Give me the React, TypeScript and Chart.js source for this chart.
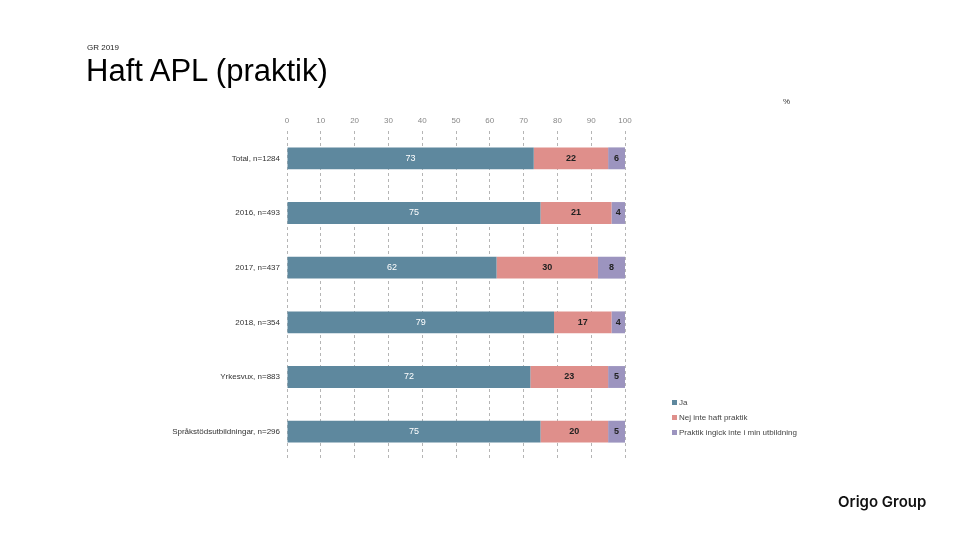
import React, { useEffect, useRef } from "react";
import { Chart, registerables } from "chart.js";
Chart.register(...registerables);

const categories = [
  "Total, n=1284",
  "2016, n=493",
  "2017, n=437",
  "2018, n=354",
  "Yrkesvux, n=883",
  "Språkstödsutbildningar, n=296",
];
const seriesNames = ["Ja", "Nej inte haft praktik", "Praktik ingick inte i min utbildning"];
const jaValues = [73, 75, 62, 79, 72, 75];
const nejValues = [22, 21, 30, 17, 23, 20];
const ingickValues = [6, 4, 8, 4, 5, 5];
const xTicks = [0, 10, 20, 30, 40, 50, 60, 70, 80, 90, 100];
const colors = ["#5e889e", "#df8f8b", "#9c94bf"];
const labelColors = ["#ffffff", "#222222", "#222222"];

const FONT = "'Liberation Sans', Arial, sans-serif";

const valueLabels = {
  id: "valueLabels",
  afterDatasetsDraw(chart: any) {
    const ctx = chart.ctx;
    ctx.save();
    ctx.textAlign = "center";
    ctx.textBaseline = "middle";
    chart.data.datasets.forEach((ds: any, i: number) => {
      const meta = chart.getDatasetMeta(i);
      ctx.font = i === 0 ? `9px ${FONT}` : `bold 9px ${FONT}`;
      meta.data.forEach((bar: any, j: number) => {
        const right = Math.min(bar.x, chart.chartArea.right);
        const cx = (bar.base + right) / 2;
        ctx.fillStyle = labelColors[i];
        ctx.fillText(String(ds.data[j]), cx, bar.y);
      });
    });
    ctx.restore();
  },
};

export default function App() {
  const ref = useRef<HTMLCanvasElement>(null);
  useEffect(() => {
    const chart = new Chart(ref.current!, {
      type: "bar",
      data: {
        labels: categories,
        datasets: [jaValues, nejValues, ingickValues].map((d, i) => ({
          label: seriesNames[i],
          data: d,
          backgroundColor: colors[i],
          barPercentage: 0.4,
          categoryPercentage: 1,
        })),
      },
      options: {
        indexAxis: "y",
        animation: false,
        responsive: false,
        maintainAspectRatio: false,
        layout: { padding: { left: 0, right: 335, top: 0, bottom: 81 } },
        plugins: { legend: { display: false }, tooltip: { enabled: false } },
        scales: {
          x: {
            position: "top",
            stacked: true,
            min: 0,
            max: 100,
            afterBuildTicks: (s: any) => {
              s.ticks = xTicks.map((v) => ({ value: v }));
            },
            afterFit: (s: any) => {
              s.height = 131;
            },
            grid: {
              color: "#b5b5b5",
              lineWidth: 1,
              drawTicks: false,
            },
            border: { display: false, dash: [3, 3] },
            ticks: {
              color: "#888",
              font: { family: FONT, size: 8 },
              padding: 5,
            },
          },
          y: {
            stacked: true,
            afterFit: (s: any) => {
              s.width = 287;
            },
            grid: { display: false, drawTicks: false },
            border: { display: false },
            ticks: {
              color: "#333",
              font: { family: FONT, size: 8 },
              padding: 7,
            },
          },
        },
      } as any,
      plugins: [valueLabels],
    });
    return () => chart.destroy();
  }, []);

  return (
    <div style={{ position: "absolute", left: 0, top: 0, width: 960, height: 540, background: "#fff", fontFamily: FONT }}>
      <canvas ref={ref} width={960} height={540} style={{ position: "absolute", left: 0, top: 0 }} />
      <div style={{ position: "absolute", left: 87, top: 43, fontSize: 8, color: "#222" }}>GR 2019</div>
      <div style={{ position: "absolute", left: 86, top: 53, fontSize: 31, color: "#000", whiteSpace: "nowrap" }}>Haft APL (praktik)</div>
      <div style={{ position: "absolute", left: 783, top: 97, fontSize: 8, color: "#333" }}>%</div>
      <div style={{ position: "absolute", left: 672, top: 395 }}>
        {seriesNames.map((n, i) => (
          <div key={n} style={{ display: "flex", alignItems: "center", height: 15, fontSize: 8, color: "#444", whiteSpace: "nowrap" }}>
            <span style={{ display: "inline-block", width: 5, height: 5, background: colors[i], marginRight: 2 }} />
            {n}
          </div>
        ))}
      </div>
      <div style={{ position: "absolute", left: 838, top: 492, fontSize: 15, fontWeight: 600, color: "#111", fontFamily: "Inter, sans-serif", whiteSpace: "nowrap" }}>Origo Group</div>
    </div>
  );
}
